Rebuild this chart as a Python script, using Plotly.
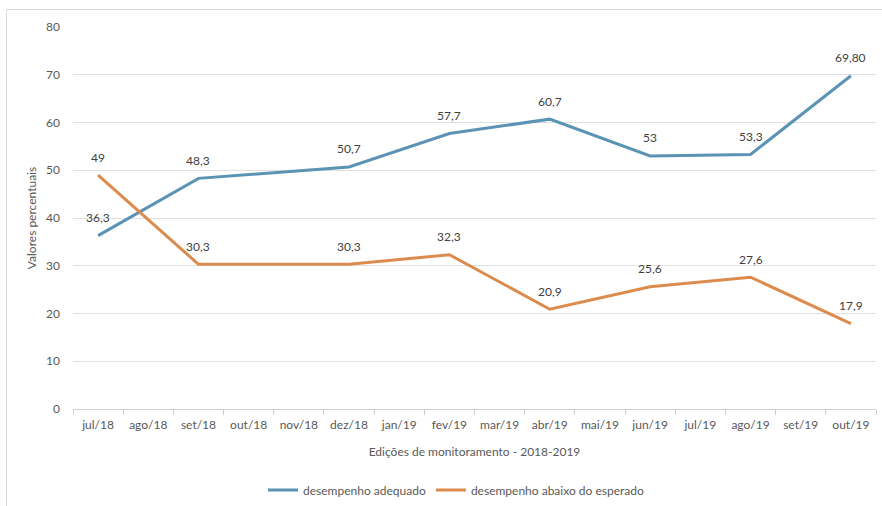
import plotly.graph_objects as go

# Monthly monitoring editions (x axis categories)
meses = ["jul/18", "ago/18", "set/18", "out/18", "nov/18", "dez/18", "jan/19", "fev/19",
         "mar/19", "abr/19", "mai/19", "jun/19", "jul/19", "ago/19", "set/19", "out/19"]

# Editions that actually took place
edicoes = ["jul/18", "set/18", "dez/18", "fev/19", "abr/19", "jun/19", "ago/19", "out/19"]

# Percentages as published (Portuguese decimal comma)
adequado_txt = ["36,3", "48,3", "50,7", "57,7", "60,7", "53", "53,3", "69,80"]
abaixo_txt = ["49", "30,3", "30,3", "32,3", "20,9", "25,6", "27,6", "17,9"]

adequado = [float(s.replace(",", ".")) for s in adequado_txt]
abaixo = [float(s.replace(",", ".")) for s in abaixo_txt]

FONT = "Lato, 'Open Sans', sans-serif"
GRAY = "#595959"
BLUE = "#5b93b5"
ORANGE = "#dc8b4d"

fig = go.Figure()
series = [
    ("desempenho adequado", adequado, adequado_txt, BLUE),
    ("desempenho abaixo do esperado", abaixo, abaixo_txt, ORANGE),
]
for name, vals, txt, color in series:
    fig.add_trace(go.Scatter(
        x=edicoes, y=vals, mode="lines", name=name,
        line=dict(color=color, width=3),
    ))
    # value labels sit a little above each point
    for xc, v, t in zip(edicoes, vals, txt):
        fig.add_annotation(x=xc, y=v, text=t, showarrow=False, yshift=18,
                           xanchor="center", yanchor="middle",
                           font=dict(family=FONT, size=12, color="#404040"))

L, R, T, B = 73, 6, 27, 97
W, H = 882, 506
pw, ph = W - L - R, H - T - B

def px_x(p):
    return (p - L) / pw

def px_y(p):
    return (H - B - p) / ph

# Chart frame (top and left edges visible)
fig.add_shape(type="rect", xref="paper", yref="paper",
              x0=px_x(6.5), x1=px_x(890), y0=px_y(9.5), y1=px_y(520),
              line=dict(color="#d9d9d9", width=1), layer="below")

fig.update_layout(
    width=W, height=H,
    margin=dict(l=L, r=R, t=T, b=B, autoexpand=False),
    paper_bgcolor="white", plot_bgcolor="white",
    font=dict(family=FONT, size=12, color=GRAY),
    showlegend=True,
    legend=dict(orientation="h", x=px_x(456), xanchor="center", y=px_y(490), yanchor="middle",
                font=dict(family=FONT, size=12, color=GRAY), itemwidth=30,
                tracegroupgap=0),
)

fig.update_xaxes(
    type="category", categoryorder="array", categoryarray=meses,
    range=[-0.5, len(meses) - 0.5], tickvals=meses, automargin=False,
    showgrid=False, showline=True, linecolor="#d0d0d0", linewidth=1,
    ticks="outside", tickson="boundaries", ticklen=5, tickcolor="#d0d0d0",
    ticklabelstandoff=5,
    tickfont=dict(family=FONT, size=12, color=GRAY),
    title=dict(text="Edições de monitoramento - 2018-2019",
               font=dict(family=FONT, size=12, color=GRAY), standoff=16),
    fixedrange=True,
)
fig.update_yaxes(
    range=[0, 80], dtick=10, showgrid=True, gridcolor="#e0e0e0", gridwidth=1,
    zeroline=False, showline=False, ticks="", ticklabelstandoff=12, automargin=False,
    tickfont=dict(family=FONT, size=12, color=GRAY),
    title=dict(text="Valores percentuais", font=dict(family=FONT, size=12, color=GRAY),
               standoff=6),
    fixedrange=True,
)

fig.write_html("out.html")
